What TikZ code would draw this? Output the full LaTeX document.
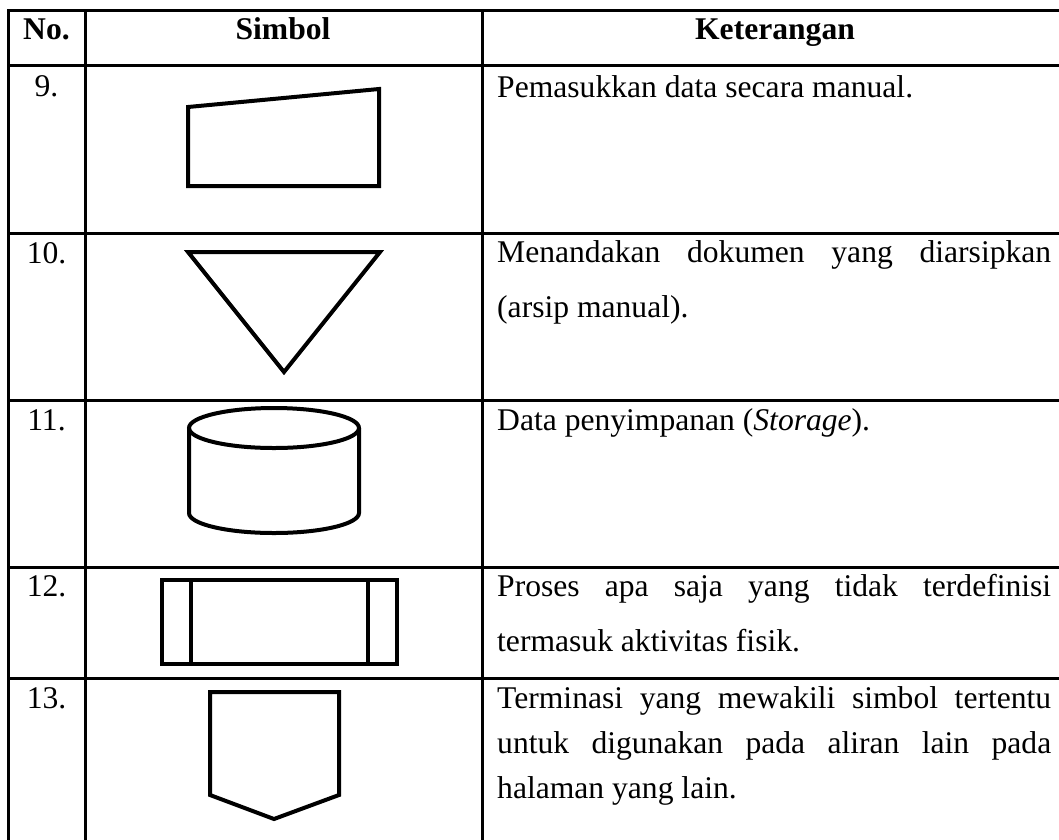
\documentclass[tikz,border=0pt]{standalone}
\usepackage{fontspec}
\setmainfont{Liberation Serif}
\newcommand{\jline}[1]{\hbox to 554pt{#1}}
\begin{document}
\begin{tikzpicture}[x=1pt,y=-1pt,
  grid/.style={line width=3pt},
  sym/.style={line width=4pt, line join=miter},
  txt/.style={anchor=base west, inner sep=0pt, font=\fontsize{31.6}{40}\selectfont},
  num/.style={anchor=base, inner sep=0pt, font=\fontsize{31.6}{40}\selectfont},
  hdr/.style={anchor=base, inner sep=0pt, font=\fontsize{31.6}{40}\selectfont\bfseries}]
\useasboundingbox (0,0) rectangle (1059,839);
% grid
\draw[grid] (1070,10) -- (8,10) -- (8,850);
\foreach \y in {65,233,400,567,678} \draw[grid] (8,\y) -- (1070,\y);
\draw[grid] (85,10) -- (85,850);
\draw[grid] (482,10) -- (482,850);
% header
\node[hdr] (hno) at (46.5,39) {No.};
\node[hdr] (hsym) at (283,39) {Simbol};
\node[hdr] (hket) at (775,39) {Keterangan};
% numbers
\node[num] (n9) at (46.5,96) {9.};
\node[num] (n10) at (46.5,263) {10.};
\node[num] (n11) at (46.5,430) {11.};
\node[num] (n12) at (46.5,596) {12.};
\node[num] (n13) at (46.5,708) {13.};
% descriptions
\node[txt] (k9) at (497,97) {Pemasukkan data secara manual.};
\node[txt] (k10a) at (497,262) {\jline{Menandakan\hfill dokumen\hfill yang\hfill diarsipkan}};
\node[txt] (k10b) at (497,317) {(arsip manual).};
\node[txt] (k11) at (497,430) {Data penyimpanan (\textit{Storage}).};
\node[txt] (k12a) at (497,596) {\jline{Proses\hfill apa\hfill saja\hfill yang\hfill tidak\hfill terdefinisi}};
\node[txt] (k12b) at (497,651) {termasuk aktivitas fisik.};
\node[txt] (k13a) at (497,708) {\jline{Terminasi\hfill yang\hfill mewakili\hfill simbol\hfill tertentu}};
\node[txt] (k13b) at (497,753) {\jline{untuk\hfill digunakan\hfill pada\hfill aliran\hfill lain\hfill pada}};
\node[txt] (k13c) at (497,798) {halaman yang lain.};
% symbols
% 9: manual input
\draw[sym] (188,107) -- (379,89) -- (379,186) -- (188,186) -- cycle;
% 10: merge / archive triangle
\draw[sym] (188,252) -- (380,252) -- (284,372) -- cycle;
% 11: storage cylinder
\draw[sym] (274,428) ellipse [x radius=85, y radius=20];
\draw[sym] (189,428) -- (189,513) arc [start angle=180, end angle=360, x radius=85, y radius=-20] -- (359,428);
% 12: predefined process
\draw[sym] (162,580) rectangle (397,664);
\draw[sym] (191,580) -- (191,664);
\draw[sym] (368,580) -- (368,664);
% 13: off-page connector
\draw[sym] (210,692) -- (339,692) -- (339,795) -- (274,819) -- (210,795) -- cycle;
\end{tikzpicture}
\end{document}
